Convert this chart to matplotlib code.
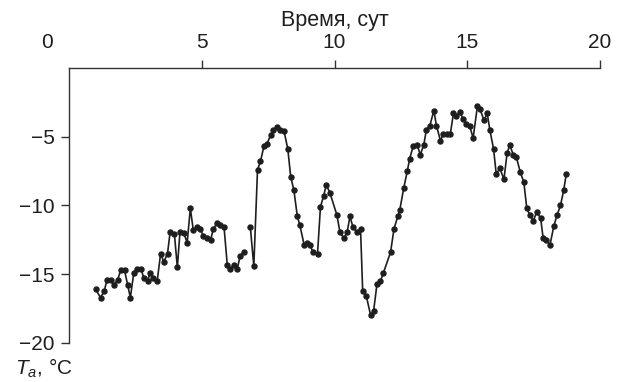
import matplotlib
matplotlib.use("Agg")
import matplotlib.pyplot as plt
import matplotlib.transforms as mtransforms
import numpy as np

plt.rcParams["font.family"] = ["Liberation Sans", "DejaVu Sans"]
plt.rcParams["mathtext.fontset"] = "custom"
plt.rcParams["mathtext.rm"] = "Liberation Sans"
plt.rcParams["mathtext.it"] = "Liberation Sans:italic"

# --- data (time in days, air temperature in deg C) ---
DAYS = [
    1.00, 1.19, 1.33, 1.43, 1.58, 1.69, 1.83, 1.95, 2.09, 2.21,
    2.31, 2.44, 2.55, 2.71, 2.82, 2.96, 3.05, 3.18, 3.32, 3.45,
    3.57, 3.71, 3.81, 3.97, 4.08, 4.18, 4.32, 4.45, 4.57, 4.68,
    4.83, 4.93, 5.06, 5.21, 5.33, 5.44, 5.57, 5.70, 5.84, 5.96,
    6.08, 6.22, 6.34, 6.44, 6.58, 6.70, 6.83, 6.96, 7.10, 7.21,
    7.34, 7.46, 7.59, 7.69, 7.84, 7.96, 8.10, 8.24, 8.35, 8.47,
    8.60, 8.69, 8.86, 8.95, 9.07, 9.20, 9.36, 9.47, 9.59, 9.69,
    9.83, 10.09, 10.20, 10.35, 10.48, 10.58, 10.70, 10.83, 10.98, 11.06,
    11.20, 11.36, 11.47, 11.60, 11.73, 11.84, 12.11, 12.24, 12.38, 12.46,
    12.61, 12.74, 12.83, 12.96, 13.11, 13.23, 13.36, 13.46, 13.59, 13.74,
    13.84, 13.99, 14.09, 14.24, 14.36, 14.48, 14.59, 14.72, 14.84, 14.97,
    15.09, 15.22, 15.38, 15.48, 15.63, 15.75, 15.85, 15.99, 16.09, 16.23,
    16.38, 16.50, 16.60, 16.73, 16.85, 17.00, 17.13, 17.24, 17.36, 17.49,
    17.61, 17.76, 17.86, 17.98, 18.11, 18.26, 18.38, 18.51, 18.63, 18.73,
]
TEMP = [
    -16.1, -16.7, -16.2, -15.4, -15.4, -15.8, -15.4, -14.7, -14.7, -15.8,
    -16.7, -14.9, -14.6, -14.6, -15.3, -15.5, -14.9, -15.3, -15.5, -13.5,
    -14.1, -13.5, -11.9, -12.1, -14.5, -11.9, -12.0, -12.7, -10.2, -11.8,
    -11.6, -11.7, -12.2, -12.4, -12.5, -11.7, -11.3, -11.4, -11.6, -14.3,
    -14.6, -14.3, -14.6, -13.7, -13.4, np.nan, -11.6, -14.4, -7.4, -6.8,
    -5.7, -5.5, -4.9, -4.5, -4.3, -4.5, -4.6, -5.9, -7.9, -8.9,
    -10.8, -11.4, -12.9, -12.7, -12.9, -13.4, -13.5, -10.1, -9.3, -8.5,
    -9.1, -10.7, -11.9, -12.4, -11.9, -10.8, -11.6, -11.9, -11.7, -16.2,
    -16.6, -18.0, -17.7, -15.7, -15.5, -14.9, -13.4, -11.7, -10.8, -10.3,
    -8.7, -7.5, -6.6, -5.7, -5.6, -6.3, -5.6, -4.5, -4.2, -3.1,
    -4.2, -5.3, -4.8, -4.8, -4.8, -3.3, -3.5, -3.2, -3.7, -4.1,
    -4.2, -5.1, -2.8, -3.0, -3.8, -3.3, -4.5, -5.9, -7.7, -7.3,
    -8.1, -6.2, -5.6, -6.3, -6.5, -7.6, -8.3, -10.2, -10.7, -11.1,
    -10.5, -10.9, -12.4, -12.5, -12.9, -11.5, -10.7, -10.0, -8.9, -7.7,
]

X_TICKS = [0, 5, 10, 15, 20]
Y_TICKS = [-20, -15, -10, -5]
INK = "#1e1e1e"

fig = plt.figure(figsize=(6.24, 3.82), dpi=100)
ax = fig.add_axes([0.1106, 0.1021, 0.851, 0.7199])

ax.plot(DAYS, TEMP, color=INK, lw=1.2, marker="o", ms=3.6)

ax.set_xlim(0, 20)
ax.set_ylim(-20, 0)
for side in ("right", "bottom"):
    ax.spines[side].set_visible(False)
for side in ("top", "left"):
    ax.spines[side].set_color("#333333")
    ax.spines[side].set_linewidth(1.0)

ax.xaxis.tick_top()
ax.xaxis.set_label_position("top")
ax.set_xticks(X_TICKS)
ax.set_yticks(Y_TICKS)
ax.tick_params(direction="out", length=5.5, width=1.0, labelsize=15,
               pad=5, color="#333333", labelcolor=INK)
ax.tick_params(axis="x", pad=6)
ax.set_xlabel("Время, сут", fontsize=15.5, labelpad=5, color=INK)

# the "0" sits left of the corner, with no tick of its own
first = ax.xaxis.get_major_ticks()[0]
first.tick2line.set_visible(False)
shift = mtransforms.ScaledTranslation(-0.22, 0, fig.dpi_scale_trans)
first.label2.set_transform(first.label2.get_transform() + shift)

fig.text(15 / 624, 1 - 368 / 382, r"$T_a$, °C", ha="left", va="center",
         fontsize=15, color=INK)

fig.savefig("out.png", dpi=100)
